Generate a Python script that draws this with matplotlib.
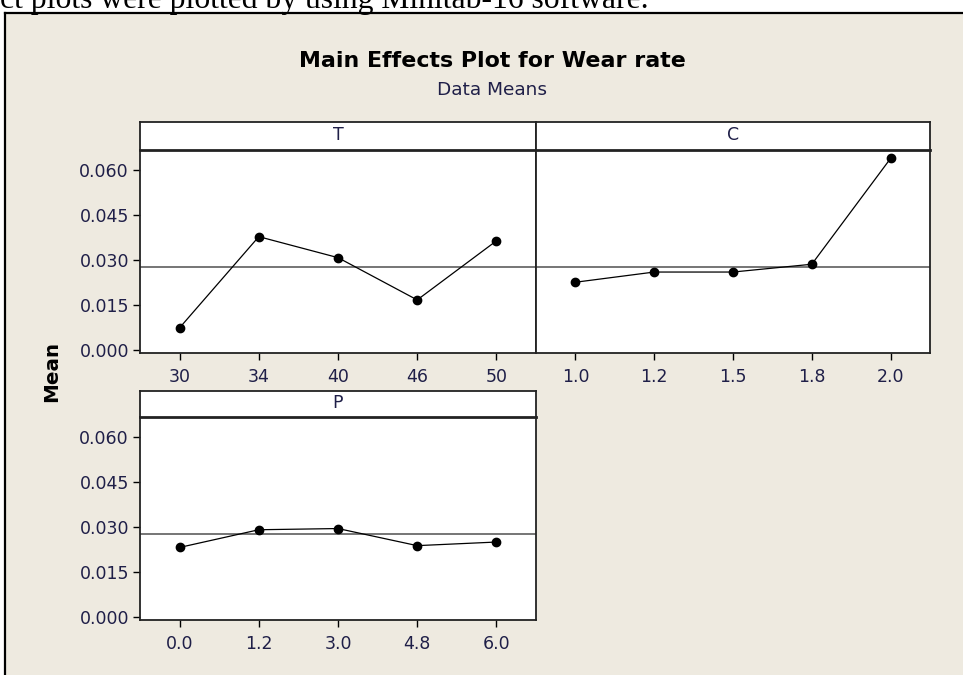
import matplotlib
matplotlib.use("Agg")
import matplotlib.pyplot as plt
from matplotlib.patches import Rectangle
from matplotlib.lines import Line2D

# ---------------- DATA ----------------
T_levels = ["30", "34", "40", "46", "50"]
T_means = [0.0074, 0.0378, 0.0308, 0.0167, 0.0364]

C_levels = ["1.0", "1.2", "1.5", "1.8", "2.0"]
C_means = [0.0226, 0.0260, 0.0260, 0.0286, 0.0639]

P_levels = ["0.0", "1.2", "3.0", "4.8", "6.0"]
P_means = [0.0232, 0.0291, 0.0295, 0.0238, 0.0250]

grand_mean = 0.0278
y_ticks = [0.000, 0.015, 0.030, 0.045, 0.060]
# --------------------------------------

W, H = 963, 675
BG = "#EEEAE0"
TXT = "#1f1f48"

def box(l, t, r, b):
    # pixel box (from top-left) -> figure fraction rect
    return [l / W, 1 - b / H, (r - l) / W, (b - t) / H]

fig = plt.figure(figsize=(W / 100, H / 100), dpi=100)
fig.patch.set_facecolor("white")

# beige Minitab background with black frame on top/left
fig.patches.append(Rectangle((5 / W, 0), 1, 1 - 13 / H, transform=fig.transFigure,
                             facecolor=BG, edgecolor="none", zorder=-2))
fig.lines.append(Line2D([5 / W, 5 / W], [0, 1 - 13 / H], transform=fig.transFigure,
                        color="black", lw=1.6, zorder=-1))
fig.lines.append(Line2D([5 / W, 1], [1 - 13 / H, 1 - 13 / H], transform=fig.transFigure,
                        color="black", lw=1.6, zorder=-1))

# cut-off line of document text above the figure
fig.text(0 / W, 1 - 8 / H, "ct plots were plotted by using Minitab-16 software.",
         family="Liberation Serif", fontsize=22.8, color="black", va="baseline", ha="left")

fig.text(492 / W, 1 - 61 / H, "Main Effects Plot for Wear rate", ha="center", va="center",
         fontsize=15.9, fontweight="bold", color="black")
fig.text(492 / W, 1 - 90 / H, "Data Means", ha="center", va="center",
         fontsize=13.3, color=TXT)
fig.text(52 / W, 1 - 372 / H, "Mean", ha="center", va="center", rotation=90,
         fontsize=14.3, fontweight="bold", color="black")


def panel(rect, strip_rect, name, levels, means, show_y):
    ax = fig.add_axes(rect)
    ax.set_facecolor("white")
    x = list(range(1, len(levels) + 1))
    ax.axhline(grand_mean, color="#505050", lw=1.1, zorder=1)
    ax.plot(x, means, color="black", lw=0.9, marker="o", ms=6, zorder=3)
    ax.set_xlim(0.5, len(levels) + 0.5)
    ax.set_ylim(-0.001, 0.0667)
    ax.set_xticks(x)
    ax.set_xticklabels(levels)
    ax.set_yticks(y_ticks)
    if show_y:
        ax.set_yticklabels([f"{v:.3f}" for v in y_ticks])
        ax.tick_params(axis="y", length=5, width=1, direction="out", colors="black",
                       labelcolor=TXT, labelsize=12.5, pad=3)
    else:
        ax.tick_params(axis="y", left=False, labelleft=False)
    ax.tick_params(axis="x", length=5, width=1, direction="out", colors="black",
                   labelcolor=TXT, labelsize=12.5, pad=6)
    for s in ax.spines.values():
        s.set_linewidth(1.3)
        s.set_color("#222222")

    sx = fig.add_axes(strip_rect)
    sx.set_facecolor("white")
    sx.set_xticks([])
    sx.set_yticks([])
    for s in sx.spines.values():
        s.set_linewidth(1.3)
        s.set_color("#222222")
    sx.spines["bottom"].set_linewidth(2)
    sx.text(0.5, 0.55, name, ha="center", va="center", fontsize=12.5, color=TXT,
            transform=sx.transAxes)
    return ax


panel(box(140, 150, 536, 353), box(140, 122, 536, 150), "T", T_levels, T_means, True)
panel(box(536, 150, 930, 353), box(536, 122, 930, 150), "C", C_levels, C_means, False)
panel(box(140, 417, 536, 620), box(140, 391, 536, 417), "P", P_levels, P_means, True)

fig.savefig("out.png", dpi=100, facecolor=fig.get_facecolor())
